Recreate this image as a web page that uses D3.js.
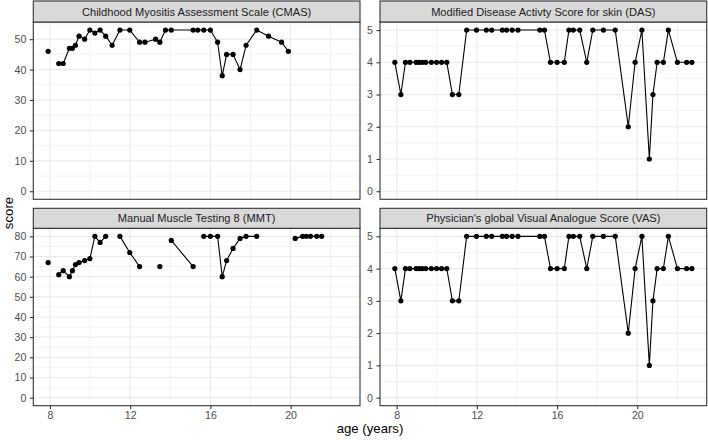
<!DOCTYPE html>
<html>
<head>
<meta charset="utf-8">
<script src="https://cdn.jsdelivr.net/npm/d3@7"></script>
<style>
  html, body { margin: 0; padding: 0; background: #ffffff; }
  svg { display: block; font-family: "Liberation Sans", Arial, Helvetica, sans-serif; }
</style>
</head>
<body>
<svg id="chart" width="708" height="440"></svg>
<script>
// ---- data ----
const ages = [7.91, 8.21, 8.44, 8.66, 8.97, 9.12, 9.27, 9.45, 9.73, 9.99,
  10.24, 10.50, 10.78, 11.10, 11.49, 11.98, 12.47, 12.74, 13.27, 13.48,
  13.76, 14.05, 15.14, 15.37, 15.67, 16.00, 16.36, 16.59, 16.81, 17.13,
  17.48, 17.78, 18.31, 18.90, 19.55, 19.89, 20.23, 20.60, 20.78, 20.99,
  21.30, 21.55, 22.00, 22.46, 22.72];

const cmas = [46, null, 42, 42, 47, 47, 48, 51, 50, 53,
  52, 53, 51, 48, 53, 53, 49, 49, 50, 49,
  53, 53, 53, 53, 53, 53, 49, 38, 45, 45,
  40, 48, 53, 51, 49, 46, null, null, null, null,
  null, null, null, null, null];

const das = [4, 3, 4, 4, 4, 4, 4, 4, 4, 4,
  4, 4, 3, 3, 5, 5, 5, 5, 5, 5,
  5, 5, 5, 5, 4, 4, 4, 5, 5, 5,
  4, 5, 5, 5, 2, 4, 5, 1, 3, 4,
  4, 5, 4, 4, 4];

const mmt = [67, null, 61, 63, 60, 63, 66, 67, 68, 69,
  80, 77, 80, null, 80, 72, 65, null, null, 65,
  null, 78, 65, null, 80, 80, 80, 60, 68, 74,
  79, 80, 80, null, null, null, 79, 80, 80, 80,
  80, 80, null, null, null];

const vas = [4, 3, 4, 4, 4, 4, 4, 4, 4, 4,
  4, 4, 3, 3, 5, 5, 5, 5, 5, 5,
  5, 5, 5, 5, 4, 4, 4, 5, 5, 5,
  4, 5, 5, 5, 2, 4, 5, 1, 3, 4,
  4, 5, 4, 4, 4];

const panelTitles = [
  "Childhood Myositis Assessment Scale (CMAS)",
  "Modified Disease Activty Score for skin (DAS)",
  "Manual Muscle Testing 8 (MMT)",
  "Physician's global Visual Analogue Score (VAS)"
];
const panelSeries = [cmas, das, mmt, vas];
const yTickSteps = [10, 1, 10, 1];
const xTickValues = [8, 12, 16, 20];
const xMinorValues = [10, 14, 18, 22];
const xTitle = "age (years)";
const yTitle = "score";

// ---- layout ----
const svg = d3.select("#chart");
const colX = [{l: 33.3, r: 360}, {l: 380, r: 706.7}];
const rowY = [{st: 1, sb: 22, pb: 199.3}, {st: 208.3, sb: 228.3, pb: 405.7}];

const xExt = d3.extent(ages);
const xPad = (xExt[1] - xExt[0]) * 0.05;

const grey20 = "#333333", grey30 = "#4d4d4d", grid = "#ebebeb";

panelSeries.forEach((vals, i) => {
  const col = colX[i % 2], row = rowY[Math.floor(i / 2)];
  const x = d3.scaleLinear().domain([xExt[0] - xPad, xExt[1] + xPad]).range([col.l, col.r]);
  const yMax = d3.max(vals);
  const yPad = yMax * 0.05;
  const y = d3.scaleLinear().domain([0 - yPad, yMax + yPad]).range([row.pb, row.sb]);
  const step = yTickSteps[i];
  const yTicks = d3.range(0, yMax + 1e-9, step);
  const yMinor = d3.range(-step / 2, yMax + yPad + step, step)
    .filter(v => v > y.domain()[0] && v < y.domain()[1]);

  const g = svg.append("g");
  const clipId = "clip" + i;
  g.append("clipPath").attr("id", clipId).append("rect")
    .attr("x", col.l).attr("y", row.sb).attr("width", col.r - col.l).attr("height", row.pb - row.sb);

  // panel background
  g.append("rect").attr("x", col.l).attr("y", row.sb)
    .attr("width", col.r - col.l).attr("height", row.pb - row.sb).attr("fill", "#ffffff");

  const gridG = g.append("g").attr("clip-path", `url(#${clipId})`);
  // minor grid
  gridG.selectAll(".xm").data(xMinorValues).join("line")
    .attr("x1", d => x(d)).attr("x2", d => x(d)).attr("y1", row.sb).attr("y2", row.pb)
    .attr("stroke", grid).attr("stroke-width", 0.6);
  gridG.selectAll(".ym").data(yMinor).join("line").attr("class", "ym")
    .attr("x1", col.l).attr("x2", col.r).attr("y1", d => y(d)).attr("y2", d => y(d))
    .attr("stroke", grid).attr("stroke-width", 0.6);
  // major grid
  gridG.selectAll(".xM").data(xTickValues).join("line").attr("class", "xM")
    .attr("x1", d => x(d)).attr("x2", d => x(d)).attr("y1", row.sb).attr("y2", row.pb)
    .attr("stroke", grid).attr("stroke-width", 1.2);
  gridG.selectAll(".yM").data(yTicks).join("line").attr("class", "yM")
    .attr("x1", col.l).attr("x2", col.r).attr("y1", d => y(d)).attr("y2", d => y(d))
    .attr("stroke", grid).attr("stroke-width", 1.2);

  // data
  const pts = ages.map((a, k) => ({a, v: vals[k]}));
  const line = d3.line().defined(d => d.v != null).x(d => x(d.a)).y(d => y(d.v));
  const dataG = g.append("g").attr("clip-path", `url(#${clipId})`);
  dataG.append("path").datum(pts).attr("d", line)
    .attr("fill", "none").attr("stroke", "#000000").attr("stroke-width", 1.1)
    .attr("stroke-linejoin", "round");
  dataG.selectAll("circle").data(pts.filter(d => d.v != null)).join("circle")
    .attr("cx", d => x(d.a)).attr("cy", d => y(d.v)).attr("r", 2.6).attr("fill", "#000000");

  // panel border
  g.append("rect").attr("x", col.l).attr("y", row.sb)
    .attr("width", col.r - col.l).attr("height", row.pb - row.sb)
    .attr("fill", "none").attr("stroke", grey20).attr("stroke-width", 1.1);

  // strip
  g.append("rect").attr("x", col.l).attr("y", row.st)
    .attr("width", col.r - col.l).attr("height", row.sb - row.st)
    .attr("fill", "#d9d9d9").attr("stroke", grey20).attr("stroke-width", 1.1);
  g.append("text").attr("x", (col.l + col.r) / 2).attr("y", (row.st + row.sb) / 2 + 4)
    .attr("text-anchor", "middle").attr("font-size", 11.1).attr("fill", "#1a1a1a")
    .text(panelTitles[i]);

  // y axis
  const yAxis = d3.axisLeft(y).tickValues(yTicks).tickSize(3.5).tickPadding(3.5).tickFormat(d3.format("d"));
  const ya = g.append("g").attr("transform", `translate(${col.l},0)`).call(yAxis);
  ya.select(".domain").remove();
  ya.selectAll(".tick line").attr("stroke", grey20).attr("stroke-width", 1.1);
  ya.selectAll(".tick text").attr("fill", grey30).attr("font-size", 10.6)
    .attr("font-family", "Liberation Sans, Arial, sans-serif");

  // x axis on bottom row
  if (Math.floor(i / 2) === 1) {
    const xAxis = d3.axisBottom(x).tickValues(xTickValues).tickSize(3.5).tickPadding(2.5).tickFormat(d3.format("d"));
    const xa = g.append("g").attr("transform", `translate(0,${row.pb})`).call(xAxis);
    xa.select(".domain").remove();
    xa.selectAll(".tick line").attr("stroke", grey20).attr("stroke-width", 1.1);
    xa.selectAll(".tick text").attr("fill", grey30).attr("font-size", 10.6)
      .attr("font-family", "Liberation Sans, Arial, sans-serif");
  }
});

// axis titles
svg.append("text").attr("x", (colX[0].l + colX[1].r) / 2).attr("y", 433)
  .attr("text-anchor", "middle").attr("font-size", 13.2).attr("fill", "#000000").text(xTitle);
svg.append("text").attr("transform", "translate(12.5,213) rotate(-90)")
  .attr("text-anchor", "middle").attr("font-size", 13.2).attr("fill", "#000000").text(yTitle);
</script>
</body>
</html>
